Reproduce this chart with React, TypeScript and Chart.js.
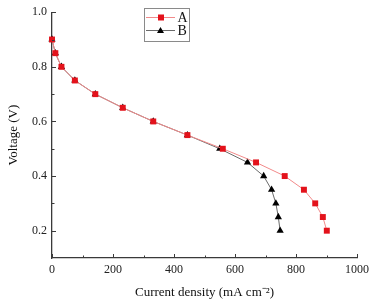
import React, { useEffect, useRef } from "react";
import { Chart, registerables } from "chart.js";

Chart.register(...registerables);

const currentA = [0, 11, 31, 75, 142, 232, 332, 444, 560, 669, 763, 826, 863, 888, 901];
const voltageA = [0.9, 0.85, 0.8, 0.75, 0.7, 0.65, 0.6, 0.55, 0.5, 0.45, 0.4, 0.35, 0.3, 0.25, 0.2];
const currentB = [0, 11, 31, 75, 142, 232, 332, 444, 550, 641, 694, 720, 734, 742, 748];
const voltageB = [0.9, 0.85, 0.8, 0.75, 0.7, 0.65, 0.6, 0.55, 0.5, 0.45, 0.4, 0.35, 0.3, 0.25, 0.2];
const xTicks = [0, 200, 400, 600, 800, 1000];
const xMinor = [100, 300, 500, 700, 900];
const yTicks = [0.2, 0.4, 0.6, 0.8, 1.0];
const yMinor = [0.3, 0.5, 0.7, 0.9];
const seriesNames = ["A", "B"];

const FONT = "'Liberation Serif', 'Times New Roman', serif";
const AXIS = "#3a3a3a";
const RED = "#e3121b";
const RED_LINE = "#f28a8a";
const GRAY_LINE = "#6a6a6a";

Chart.defaults.font.family = FONT;

const tickPlugin = {
  id: "innerTicks",
  afterDraw(chart: any) {
    const ctx = chart.ctx;
    const xs = chart.scales.x;
    const ys = chart.scales.y;
    const area = chart.chartArea;
    ctx.save();
    ctx.strokeStyle = AXIS;
    ctx.lineWidth = 1;
    const yb = area.bottom;
    const xl = area.left;
    xTicks.forEach((v) => {
      const p = Math.round(xs.getPixelForValue(v)) + 0.5;
      ctx.beginPath(); ctx.moveTo(p, yb); ctx.lineTo(p, yb - 4); ctx.stroke();
    });
    xMinor.forEach((v) => {
      const p = Math.round(xs.getPixelForValue(v)) + 0.5;
      ctx.beginPath(); ctx.moveTo(p, yb); ctx.lineTo(p, yb - 2.5); ctx.stroke();
    });
    yTicks.forEach((v) => {
      const p = Math.round(ys.getPixelForValue(v)) + 0.5;
      ctx.beginPath(); ctx.moveTo(xl, p); ctx.lineTo(xl + 4, p); ctx.stroke();
    });
    yMinor.forEach((v) => {
      const p = Math.round(ys.getPixelForValue(v)) + 0.5;
      ctx.beginPath(); ctx.moveTo(xl, p); ctx.lineTo(xl + 2.5, p); ctx.stroke();
    });

    // legend
    const bx = 144.5, by = 8.5, bw = 45, bh = 33;
    ctx.strokeStyle = "#8a8a8a";
    ctx.lineWidth = 1;
    ctx.strokeRect(bx, by, bw, bh);
    const rows = [
      { y: 17.5, line: RED_LINE, fill: RED, style: "rect" },
      { y: 30.5, line: GRAY_LINE, fill: "#000", style: "triangle" },
    ];
    rows.forEach((r, i) => {
      ctx.strokeStyle = r.line;
      ctx.lineWidth = 1;
      ctx.beginPath(); ctx.moveTo(146, r.y); ctx.lineTo(175, r.y); ctx.stroke();
      ctx.fillStyle = r.fill;
      if (r.style === "rect") {
        ctx.fillRect(158, r.y - 3, 6, 6);
      } else {
        ctx.beginPath();
        ctx.moveTo(160.5, r.y - 3.5);
        ctx.lineTo(164, r.y + 2.5);
        ctx.lineTo(157, r.y + 2.5);
        ctx.closePath();
        ctx.fill();
      }
      ctx.fillStyle = "#111";
      ctx.font = `14px ${FONT}`;
      ctx.textBaseline = "middle";
      ctx.textAlign = "left";
      ctx.fillText(seriesNames[i], 177.5, r.y + 0.5);
    });
    ctx.restore();
  },
};

export default function App() {
  const ref = useRef<HTMLCanvasElement | null>(null);
  useEffect(() => {
    if (!ref.current) return;
    const chart = new Chart(ref.current, {
      type: "scatter",
      data: {
        datasets: [
          {
            label: seriesNames[0],
            data: currentA.map((x, i) => ({ x, y: voltageA[i] })),
            showLine: true,
            clip: false,
            borderColor: RED_LINE,
            borderWidth: 1,
            backgroundColor: RED,
            pointBackgroundColor: RED,
            pointBorderColor: RED,
            pointBorderWidth: 0,
            pointStyle: "rect",
            pointRadius: 4.2,
          },
          {
            label: seriesNames[1],
            data: currentB.map((x, i) => ({ x, y: voltageB[i] })),
            showLine: true,
            clip: false,
            borderColor: GRAY_LINE,
            borderWidth: 1,
            backgroundColor: "#000",
            pointBackgroundColor: "#000",
            pointBorderColor: "#000",
            pointBorderWidth: 0,
            pointStyle: "triangle",
            pointRadius: 4.2,
          },
        ],
      },
      options: {
        animation: false,
        responsive: false,
        maintainAspectRatio: false,
        layout: { padding: { top: 12, right: 16, left: 0, bottom: 0 } },
        plugins: { legend: { display: false }, tooltip: { enabled: false } },
        scales: {
          x: {
            type: "linear",
            min: 0,
            max: 1000,
            afterBuildTicks: (s: any) => { s.ticks = xTicks.map((v) => ({ value: v })); },
            afterFit: (s: any) => { s.height = 45; },
            grid: { display: true, drawOnChartArea: false, drawTicks: false },
            border: { display: true, color: AXIS, width: 1.3 },
            ticks: {
              color: "#222",
              font: { family: FONT, size: 12 },
              padding: 5,
              maxRotation: 0,
              callback: (v: any) => String(v),
            },
            title: {
              display: true,
              text: "Current density (mA cm⁻²)",
              color: "#111",
              font: { family: FONT, size: 13 },
              padding: { top: 0, bottom: 3 },
            },
          },
          y: {
            type: "linear",
            min: 0.1,
            max: 1.0,
            afterBuildTicks: (s: any) => { s.ticks = yTicks.map((v) => ({ value: v })); },
            afterFit: (s: any) => { s.width = 52; },
            grid: { display: true, drawOnChartArea: false, drawTicks: false },
            border: { display: true, color: AXIS, width: 1.3 },
            ticks: {
              color: "#222",
              font: { family: FONT, size: 12 },
              padding: 5,
              callback: (v: any) => Number(v).toFixed(1),
            },
            title: {
              display: true,
              text: "Voltage (V)",
              color: "#111",
              font: { family: FONT, size: 13 },
              padding: { top: 6, bottom: 0 },
            },
          },
        },
      },
      plugins: [tickPlugin],
    });
    return () => chart.destroy();
  }, []);
  return (
    <div style={{ position: "fixed", left: 0, top: 0, width: 374, height: 303, background: "#fff" }}>
      <canvas ref={ref} width={374} height={303} style={{ width: 374, height: 303 }} />
    </div>
  );
}
